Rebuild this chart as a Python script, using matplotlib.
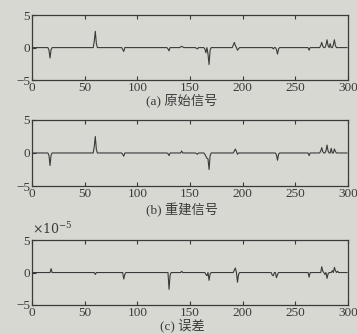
"""Original vs reconstructed sparse signal and reconstruction error (three stacked panels)."""

import matplotlib.pyplot as plt
import numpy as np

N = 300

# nonzero samples of each signal (index, value); all other samples are zero
orig_idx = [16, 17, 18, 59, 60, 61, 86, 87, 129, 130, 141, 142, 143, 156, 157,
            164, 165, 167, 168, 169, 191, 192, 193, 195, 196, 229, 232, 233, 234,
            263, 274, 275, 276, 279, 280, 281, 283, 286, 287, 288]
orig_val = [-0.4, -1.6, -0.3, 1.0, 2.5, 0.6, -0.3, -0.6, -0.2, -0.5, 0.1, 0.2, 0.1, -0.1, -0.2,
            -0.2, -0.8, -1.0, -2.6, -0.4, 0.4, 0.8, 0.3, -0.4, -0.2, -0.2, -0.3, -1.0, -0.2,
            -0.4, 0.3, 0.8, 0.2, 0.4, 1.2, 0.3, 0.6, 0.4, 1.2, 0.3]

rec_idx = [16, 17, 18, 59, 60, 61, 86, 87, 129, 130, 142, 156, 157,
           164, 165, 166, 167, 168, 169, 192, 193, 194, 195, 232, 233, 234,
           263, 274, 275, 276, 279, 280, 281, 284, 287, 288]
rec_val = [-0.4, -1.9, -0.3, 1.0, 2.5, 0.5, -0.2, -0.5, -0.1, -0.4, 0.3, -0.1, -0.2,
           -0.2, -0.5, -0.8, -0.9, -2.5, -0.4, 0.3, 0.6, 0.2, -0.2, -0.3, -1.1, -0.2,
           -0.4, 0.3, 0.8, 0.2, 0.3, 1.2, 0.3, 0.7, 0.6, 0.2]

err_idx = [18, 60, 87, 88, 130, 131, 142, 165, 166, 168, 169, 192, 193, 195, 196,
           228, 229, 232, 233, 263, 275, 276, 278, 280, 281, 285, 287, 288, 290]
err_val = [0.6, -0.3, -1.0, -0.3, -2.6, -0.4, 0.2, -0.3, -0.5, -1.2, -0.2, 0.4, 0.7, -1.5, -0.3,
           -0.4, -0.5, -0.8, -0.3, -0.7, 0.9, 0.2, -0.3, -0.9, -0.2, 0.3, 0.8, 0.3, 0.2]

captions = ["(a) 原始信号", "(b) 重建信号", "(c) 误差"]
x_ticks = [0, 50, 100, 150, 200, 250, 300]
y_ticks = [-5, 0, 5]

BG = "#d8d8d3"
INK = "#3a3a3a"
SERIF = ["Liberation Serif", "Noto Sans CJK SC"]

plt.rcParams["mathtext.fontset"] = "dejavuserif"


def build(idx, val):
    s = np.zeros(N)
    s[idx] = val
    return s


signals = [build(orig_idx, orig_val), build(rec_idx, rec_val), build(err_idx, err_val)]

fig = plt.figure(figsize=(3.57, 3.34), dpi=100, facecolor=BG)

# left, bottom, width, height in figure fraction
boxes = [
    (0.090, 0.760, 0.885, 0.195),
    (0.090, 0.443, 0.885, 0.198),
    (0.090, 0.087, 0.885, 0.194),
]
caption_y = [0.680, 0.350, 0.004]

for sig, box, cap, cy in zip(signals, boxes, captions, caption_y):
    ax = fig.add_axes(box)
    ax.set_facecolor(BG)
    ax.plot(np.arange(N), sig, color=INK, linewidth=0.8)
    ax.set_xlim(0, 300)
    ax.set_ylim(-5, 5)
    ax.set_xticks(x_ticks)
    ax.set_yticks(y_ticks)
    ax.set_yticklabels(["\u22125", "0", "5"])
    ax.tick_params(direction="in", length=3, width=0.8, colors=INK,
                   labelsize=9.5, top=True, right=False, pad=1.5)
    for lab in ax.get_xticklabels() + ax.get_yticklabels():
        lab.set_family(SERIF)
    for sp in ax.spines.values():
        sp.set_color(INK)
        sp.set_linewidth(0.9)
    fig.text(0.51, cy, cap, ha="center", va="bottom", fontsize=9.5,
             family=SERIF, color=INK)

fig.text(0.09, 0.290, r"$\times10^{-5}$", fontsize=9, color=INK,
         ha="left", va="bottom")

fig.savefig("out.png", dpi=100, facecolor=BG)
